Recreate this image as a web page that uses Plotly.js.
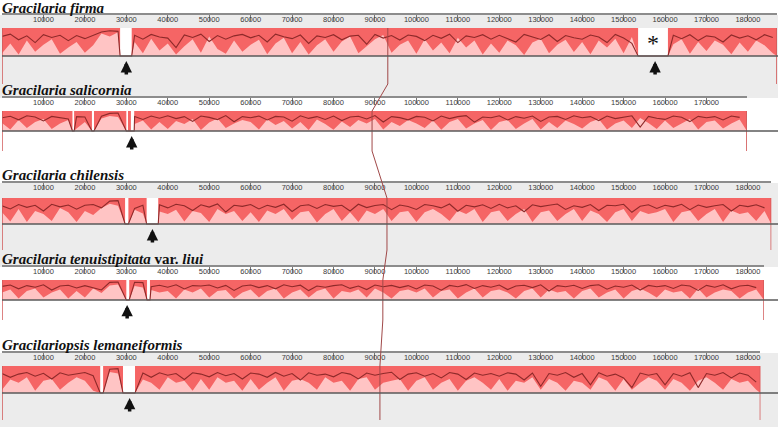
<!DOCTYPE html>
<html><head><meta charset="utf-8">
<script src="https://cdn.plot.ly/plotly-3.0.1.min.js"></script>
<style>html,body{margin:0;padding:0;background:#fff}#chart{width:778px;height:427px}</style>
</head><body><div id="chart"></div>
<script>
// ---------------- data ----------------
const genomeTitles = [
  "<b><i>Gracilaria firma</i></b>",
  "<b><i>Gracilaria salicornia</i></b>",
  "<b><i>Gracilaria chilensis</i></b>",
  "<b><i>Gracilaria tenuistipitata</i> var. <i>liui</i></b>",
  "<b><i>Gracilariopsis lemaneiformis</i></b>"
];
const genomeLengths = [187000, 179757, 185637, 183883, 183013];
const tickValues = [10000,20000,30000,40000,50000,60000,70000,80000,90000,100000,110000,120000,130000,140000,150000,160000,170000,180000];
const sampleStep = 2000; // bp between profile samples

// unaligned regions (bp) per genome
const gapsFirma = [[28500,31300],[153500,160700]];
const gapsSalicornia = [[17000,17400],[21700,22200],[30000,30400],[31100,31900]];
const gapsChilensis = [[29700,30500],[34900,37700]];
const gapsTenuistipitata = [[30000,30700],[35000,35700]];
const gapsLemaneiformis = [[23700,24400],[29200,32100]];

// similarity profile (dark line), % of block height, every 2000 bp
const profileFirma = [70,78,58,72,48,76,66,74,55,73, 62,75,86,90,88,0,74,60,77,68, 64,30,75,66,78,52,73,60,72,77, 65,74,50,78,69,62,75,45,72,66, 76,58,71,74,42,77,64,73,57,75, 70,55,74,63,78,48,72,66,76,60, 74,62,50,77,68,59,76,52,73,65, 60,75,68,48,77,64,45,0,0,0, 0,74,62,76,55,72,68,50,75,64, 72,58,76,66];
const profileSalicornia = [66,74,56,76,70,50,73,68,60,72, 70,0,74,88,90,0,72,58,75,64, 76,62,72,48,75,68,57,77,46,72, 66,75,55,73,70,49,76,63,72,58, 75,52,70,74,60,77,45,72,67,56, 73,69,50,75,62,72,77,44,70,66, 76,55,72,64,75,48,70,73,58,76, 66,72,52,75,62,70,76,20,73,64, 58,75,69,47,73,66,72,55,75,68];
const profileChilensis = [70,58,75,64,72,50,76,66,73,57, 72,75,62,88,90,0,60,72,0,74, 62,76,70,52,74,65,77,46,72,68, 75,58,72,64,76,48,70,74,60,75, 68,72,50,76,63,71,75,55,73,67, 56,75,70,62,77,49,72,66,74,60, 76,62,70,47,74,67,72,77,56,70, 64,75,52,72,70,76,45,68,74,60, 72,66,76,55,73,64,70,75,50,72, 67,74,62];
const profileTenuistipitata = [68,75,56,72,64,76,50,70,74,60, 72,62,50,88,90,0,89,87,66,74, 64,76,55,72,70,75,60,73,48,70, 75,62,72,56,76,66,74,47,70,64, 72,76,58,70,52,75,66,73,62,72, 55,75,70,49,73,66,77,58,72,64, 75,52,70,74,62,76,45,72,66,74, 58,72,76,54,70,64,75,50,73,66, 72,58,75,70,48,73,64,76,56,70, 74,62];
const profileLemaneiformis = [72,58,70,76,62,73,52,75,66,70, 76,64,25,88,90,0,0,74,58,75, 66,72,50,75,70,60,76,64,72,52, 74,70,58,76,62,72,48,75,66,70, 60,76,70,52,74,66,72,77,50,70, 75,62,72,56,76,70,50,74,66,72, 62,75,70,48,74,25,72,66,76,58, 72,30,75,62,70,56,20,74,66,72, 30,72,62,75,20,72,66,76,56,74, 66,40];

// low-similarity (light) fill, % of block height, every 2000 bp
const lowFirma = [10,45,5,55,15,40,60,8,30,50, 12,38,80,70,85,0,50,10,62,20, 45,5,35,60,12,70,25,8,55,15, 40,58,6,45,65,10,50,5,38,60, 15,52,70,10,35,60,75,12,40,55, 8,60,20,48,10,65,30,55,5,45, 12,55,38,4,48,62,10,40,58,14, 50,6,55,30,62,10,68,0,0,0, 0,42,60,8,50,18,55,40,6,48, 15,55,38,10];
const lowSalicornia = [40,8,55,15,45,60,10,38,55,12, 45,0,62,75,70,0,35,52,8,45, 10,50,35,60,5,42,62,15,38,55, 45,8,58,30,50,12,45,5,58,35, 6,48,20,55,38,60,8,45,25,55, 38,15,52,6,45,60,12,38,55,5, 45,55,10,38,60,8,45,15,52,35, 12,45,60,8,38,52,15,65,40,10, 52,15,38,60,8,45,52,12,38,58];
const lowChilensis = [45,10,58,8,50,38,12,62,45,8, 50,35,62,78,70,0,55,40,0,48, 38,55,10,50,42,8,58,38,50,12, 45,8,52,38,58,15,45,50,6,38, 58,12,45,8,52,38,58,12,45,50, 8,45,58,38,12,52,38,58,8,45, 52,12,38,58,8,45,52,12,38,58, 12,52,38,8,45,58,12,50,38,45, 58,8,45,52,12,38,58,8,52,38, 45,12,50];
const lowTenuistipitata = [38,52,8,45,58,12,38,52,8,45, 12,58,35,72,78,0,70,62,50,38, 45,8,52,38,58,12,45,50,8,38, 52,12,45,58,8,38,52,12,45,58, 8,45,38,52,12,58,38,8,45,52, 38,58,12,45,52,8,38,58,12,45, 52,38,8,45,58,12,52,38,45,8, 45,58,12,38,52,8,45,58,38,12, 52,38,45,8,58,12,38,52,45,8, 38,52];
const lowLemaneiformis = [12,50,38,58,8,45,52,12,38,58, 45,8,10,78,72,0,0,50,38,12, 58,38,45,8,52,12,58,38,45,8, 52,12,38,58,8,45,52,38,12,58, 38,45,8,52,58,12,38,45,52,8, 45,58,12,38,52,8,45,58,38,12, 52,8,45,38,58,12,52,38,8,45, 38,12,58,45,8,52,12,38,58,45, 12,52,38,8,45,58,38,12,52,38, 45,12];

// marked positions (arrows), asterisk, and LCB connector position per genome (bp)
const arrowsFirma = [30000, 157600];
const arrowsSalicornia = [31300];
const arrowsChilensis = [36300];
const arrowsTenuistipitata = [30200];
const arrowsLemaneiformis = [30800];
const asteriskPosition = 157000;
const connectorPositions = [93100, 89300, 92900, 91900, 91200];

// ---------------- layout constants ----------------
const W = 778, H = 427;
const X0 = 2, PX_PER_BP = 0.004144;
const TITLE_SIZE = 15;
const TITLE_ASCENT = 0.891 * TITLE_SIZE;
const panels = [
  {ruler:15,  top:28,  bot:56,  end:98,  bg:'#ececec'},
  {ruler:98,  top:111, bot:131, end:183, bg:null},
  {ruler:183, top:198, bot:224, end:267, bg:'#ececec'},
  {ruler:267, top:280, bot:300, end:353, bg:null},
  {ruler:353, top:366, bot:393, end:427, bg:'#ececec'}
];
const RED = '#f56565', PINK = '#ffc4c4', DARK = '#8e2a2a', LCBLINE = '#d25a5a';

const gapsAll = [gapsFirma, gapsSalicornia, gapsChilensis, gapsTenuistipitata, gapsLemaneiformis];
const profAll = [profileFirma, profileSalicornia, profileChilensis, profileTenuistipitata, profileLemaneiformis];
const lowAll = [lowFirma, lowSalicornia, lowChilensis, lowTenuistipitata, lowLemaneiformis];
const arrowsAll = [arrowsFirma, arrowsSalicornia, arrowsChilensis, arrowsTenuistipitata, arrowsLemaneiformis];

const traces = [];
const shapes = [];
const annotations = [];
const layout = {
  width: W, height: H, margin: {l:0, r:0, t:0, b:0},
  paper_bgcolor: '#ffffff', plot_bgcolor: 'rgba(0,0,0,0)',
  showlegend: false, hovermode: false
};

panels.forEach((p, i) => {
  const s = i === 0 ? '' : String(i + 1);
  const xa = 'x' + s, ya = 'y' + s;
  const len = genomeLengths[i], gaps = gapsAll[i];
  const inGap = x => gaps.some(([a, b]) => x >= a && x <= b);
  const unit = p.bot - p.top;
  const xEndPaper = Math.min(1, (X0 + len * PX_PER_BP) / W);

  if (p.bg) {
    shapes.push({type:'rect', xref:'paper', yref:'paper', x0:0, x1:1,
      y0: 1 - p.end / H, y1: 1 - p.ruler / H, fillcolor: p.bg, line:{width:0}, layer:'below'});
    shapes.push({type:'rect', xref:'paper', yref: ya, x0: X0 / W, x1: xEndPaper, y0: 0, y1: 1,
      fillcolor: '#ffffff', line:{width:0}, layer:'below'});
  }

  const tv = tickValues.filter(v => v < len);
  layout['xaxis' + s] = {
    domain: [X0 / W, xEndPaper], range: [0, len], anchor: ya,
    side: 'top', showline: true, linecolor: '#8c8c8c', linewidth: 2,
    ticks: 'inside', ticklen: 6, tickwidth: 1, tickcolor: '#777',
    tickvals: tv, ticktext: tv.map(String),
    ticklabelposition: 'inside', ticklabelstandoff: -6, ticklabeloverflow: 'allow',
    tickfont: {family: 'Liberation Sans Narrow, Liberation Sans, Arial', size: 7.5, color: '#3a3a3a'},
    showgrid: false, zeroline: false, fixedrange: true
  };
  layout['yaxis' + s] = {
    domain: [1 - p.end / H, 1 - p.ruler / H],
    range: [-(p.end - p.bot) / unit, 1 + (p.top - p.ruler) / unit],
    visible: false, fixedrange: true, anchor: xa
  };

  // aligned block segments (red)
  let cur = 0;
  const segs = [];
  gaps.forEach(([a, b]) => { segs.push([cur, a]); cur = b; });
  segs.push([cur, len]);
  segs.forEach(([a, b]) => traces.push({type:'scatter', mode:'lines', x: [a, b], y: [1, 1], xaxis: xa, yaxis: ya,
    fill: 'tozeroy', fillcolor: RED, line: {width: 0, color: RED}, hoverinfo: 'skip'}));

  // low-similarity fill (pink spikes)
  const lp = [];
  lowAll[i].forEach((v, k) => { const x = k * sampleStep; if (x <= len && !inGap(x)) lp.push([x, v / 100]); });
  gaps.forEach(([a, b]) => { lp.push([a, 0]); lp.push([b, 0]); });
  lp.push([len, 0]);
  lp.sort((u, v) => u[0] - v[0]);
  traces.push({type:'scatter', mode:'lines', x: lp.map(q => q[0]), y: lp.map(q => q[1]),
    xaxis: xa, yaxis: ya, fill: 'tozeroy', fillcolor: PINK, line: {width: 0, color: PINK}, hoverinfo: 'skip'});

  // similarity profile line
  const pp = [];
  profAll[i].forEach((v, k) => { const x = k * sampleStep; if (x <= len && !inGap(x)) pp.push([x, v / 100]); });
  gaps.forEach(([a, b]) => { pp.push([a, 0]); pp.push([b, 0]); });
  pp.sort((u, v) => u[0] - v[0]);
  traces.push({type:'scatter', mode:'lines', x: pp.map(q => q[0]), y: pp.map(q => q[1]),
    xaxis: xa, yaxis: ya, line: {width: 1.1, color: DARK}, hoverinfo: 'skip'});

  // genome start / end markers
  traces.push({type:'scatter', mode:'lines', x: [0, 0, null, len, len], y: [1, -1, null, 1, -1],
    xaxis: xa, yaxis: ya, line: {width: 1.5, color: LCBLINE}, hoverinfo: 'skip'});

  // centre line
  shapes.push({type:'line', xref:'paper', yref: ya, x0: X0 / W, x1: 1, y0: 0, y1: 0,
    line: {color: '#5a5a5a', width: 1.5}});

  // title: baseline ~3px above the ruler line, kept inside the page
  const boxTop = Math.max(0, p.ruler - 3 - TITLE_ASCENT);
  annotations.push({xref:'paper', yref:'paper', x: 2 / W, y: 1 - boxTop / H, xanchor:'left', yanchor:'top',
    text: genomeTitles[i], showarrow: false, borderpad: 0, borderwidth: 0,
    font: {family: 'Liberation Serif, Times New Roman, serif', size: TITLE_SIZE, color: '#111'}});

  // arrows (thick shaft, small head)
  arrowsAll[i].forEach(pos => {
    annotations.push({xref: xa, yref: ya, x: pos, y: -5 / unit, ax: 0, ay: 15, text: '',
      showarrow: true, arrowhead: 2, arrowsize: 0.65, arrowwidth: 3.5, arrowcolor: '#111'});
  });
});

// asterisk in first genome gap
annotations.push({xref:'x', yref:'y', x: asteriskPosition, y: 0.45, text: '*', showarrow: false,
  font: {family: 'Liberation Serif, serif', size: 24, color: '#111'}});

// LCB connector across all genomes (overlay axes in pixel units)
layout.xaxis6 = {domain: [0, 1], range: [-X0 / PX_PER_BP, (W - X0) / PX_PER_BP], visible: false, fixedrange: true, anchor: 'y6'};
layout.yaxis6 = {domain: [0, 1], range: [H, 0], visible: false, fixedrange: true, anchor: 'x6'};
const cx = [], cy = [];
panels.forEach((p, i) => {
  cx.push(connectorPositions[i], connectorPositions[i]);
  cy.push(p.top, p.bot + (p.bot - p.top));
});
traces.push({type:'scatter', mode:'lines', x: cx, y: cy, xaxis: 'x6', yaxis: 'y6',
  line: {width: 1, color: '#a04848'}, hoverinfo: 'skip'});

layout.shapes = shapes;
layout.annotations = annotations;
Plotly.newPlot('chart', traces, layout, {staticPlot: true, displayModeBar: false});
</script>
</body></html>
